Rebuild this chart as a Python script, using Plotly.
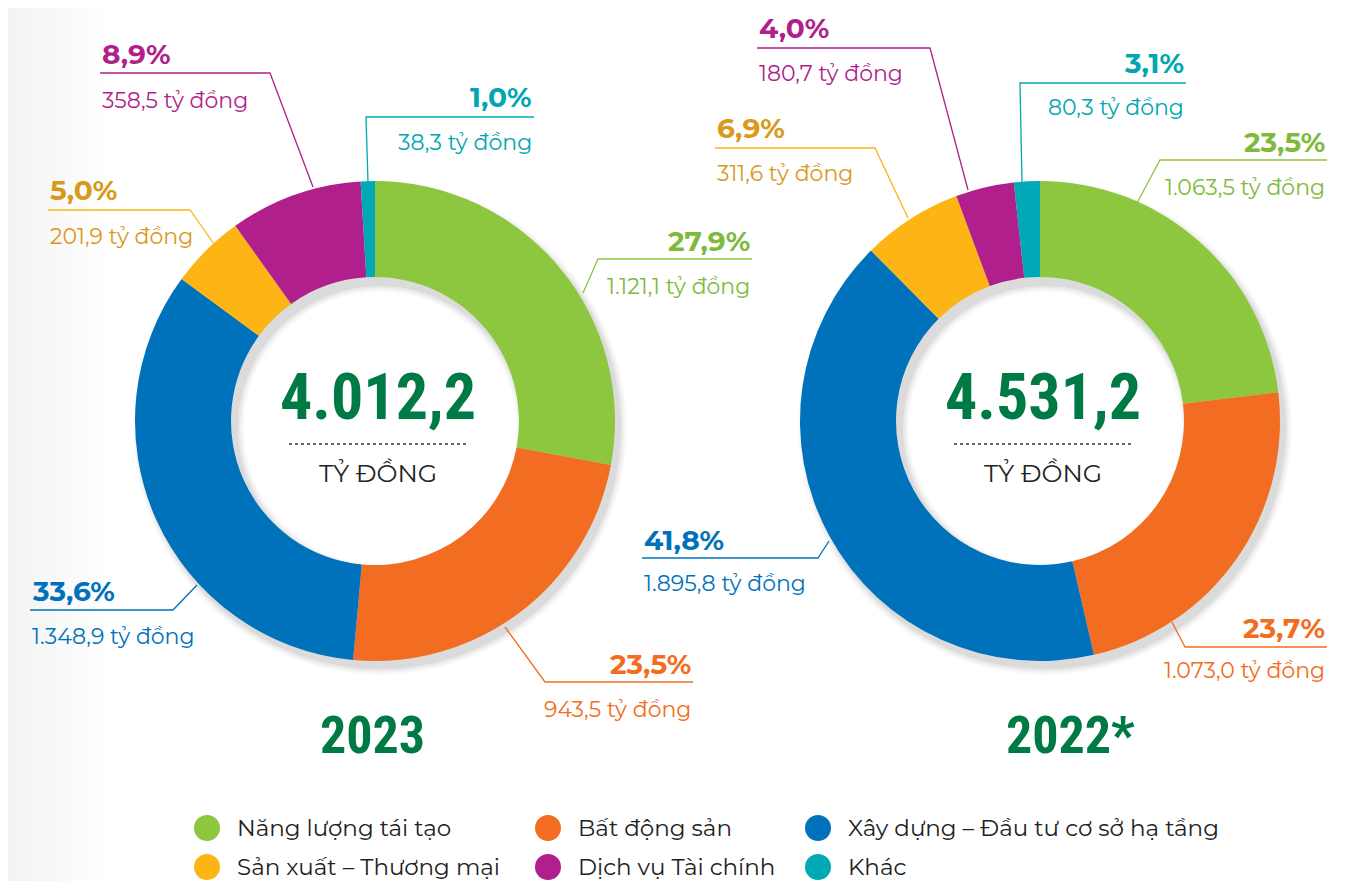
import numpy as np
import plotly.graph_objects as go

# --- data -------------------------------------------------------------
categories = [
    "Năng lượng tái tạo",
    "Bất động sản",
    "Xây dựng – Đầu tư cơ sở hạ tầng",
    "Sản xuất – Thương mại",
    "Dịch vụ Tài chính",
    "Khác",
]
values_2023 = [1121.1, 943.5, 1348.9, 201.9, 358.5, 38.3]
pct_2023 = ["27,9%", "23,5%", "33,6%", "5,0%", "8,9%", "1,0%"]
values_2022 = [1063.5, 1073.0, 1895.8, 311.6, 180.7, 80.3]
pct_2022 = ["23,5%", "23,7%", "41,8%", "6,9%", "4,0%", "3,1%"]
totals = ["4.012,2", "4.531,2"]
years = ["2023", "2022*"]

COLORS = ["#8DC63F", "#F26D21", "#0072BC", "#FDB515", "#B01F8C", "#00A9B5"]
TEXT_COLORS = ["#7FBA3A", "#F26D21", "#0072BC", "#D9991B", "#B01F8C", "#00A6B0"]
DARK_GREEN = "#007A45"
W, H = 1364, 881
OFF = 8  # page body margin offset
FW, FH = W - OFF, H - OFF
FONT = "Montserrat, Open Sans, sans-serif"
NUM_FONT = "Roboto Condensed, Liberation Sans Narrow, Roboto, sans-serif"

# donut geometry (screen pixels)
CENTERS = [(375, 421), (1040, 421)]
R_OUT = 240
HOLE = 0.6

# callout layout: side, text x, pct y, value y, leader path
CALLOUTS = [
    [
        ("right", 752, 241, 286, [(752, 259), (598, 259), (583, 293)]),
        ("right", 693, 664, 709, [(693, 682), (545, 682), (505, 627)]),
        ("left", 30, 591, 636, [(30, 610), (173, 610), (197, 585)]),
        ("left", 48, 190, 236, [(48, 210), (190, 210), (214, 244)]),
        ("left", 100, 54, 100, [(100, 73), (270, 73), (313, 187)]),
        ("right", 534, 97, 142, [(534, 117), (366, 117), (368, 182)]),
    ],
    [
        ("right", 1327, 142, 187, [(1327, 160), (1160, 160), (1137, 203)]),
        ("right", 1327, 628, 670, [(1327, 647), (1185, 647), (1172, 622)]),
        ("left", 642, 540, 583, [(642, 558), (818, 558), (829, 541)]),
        ("left", 715, 128, 173, [(715, 148), (875, 148), (908, 218)]),
        ("left", 757, 28, 73, [(757, 48), (930, 48), (968, 190)]),
        ("right", 1186, 63, 107, [(1186, 83), (1020, 83), (1022, 183)]),
    ],
]


def vn_number(v):
    s = f"{v:,.1f}"
    return s.replace(",", "X").replace(".", ",").replace("X", ".")


def ring_path(cx, cy, r1, r2, n=120):
    t = np.linspace(0, 2 * np.pi, n, endpoint=False)
    outer = " L".join(f"{cx + r1 * np.cos(a):.1f},{cy + r1 * np.sin(a):.1f}" for a in t)
    inner = " L".join(f"{cx + r2 * np.cos(a):.1f},{cy + r2 * np.sin(a):.1f}" for a in t[::-1])
    return f"M{outer} Z M{inner} Z"


fig = go.Figure()

# invisible pixel-space axes for annotations / shapes
fig.add_trace(go.Scatter(x=[OFF, W], y=[OFF, H], mode="markers",
                         marker=dict(opacity=0), hoverinfo="skip", showlegend=False))

for (cx, cy), vals in zip(CENTERS, [values_2023, values_2022]):
    fig.add_trace(go.Pie(
        labels=categories,
        values=vals,
        hole=HOLE,
        sort=False,
        direction="clockwise",
        rotation=0,
        marker=dict(colors=COLORS, line=dict(width=0)),
        textinfo="none",
        hovertemplate="%{label}<br>%{value:,.1f} tỷ đồng<extra></extra>",
        domain=dict(x=[(cx - R_OUT - OFF) / FW, (cx + R_OUT - OFF) / FW],
                    y=[1 - (cy + R_OUT - OFF) / FH, 1 - (cy - R_OUT - OFF) / FH]),
        showlegend=False,
    ))

shapes = []
annotations = []

# faint grey fade along the left edge of the page
for k in range(12):
    shapes.append(dict(type="rect", xref="x", yref="y", layer="below",
                       x0=OFF, x1=OFF + 8 * (k + 1), y0=OFF, y1=H,
                       fillcolor="rgba(0,0,0,0.004)", line=dict(width=0)))

# soft drop shadow behind the donuts
for cx, cy in CENTERS:
    for k, a in enumerate([0.05, 0.04, 0.03, 0.02]):
        shapes.append(dict(
            type="path", xref="x", yref="y", layer="below",
            path=ring_path(cx + 5, cy + 7, R_OUT + 1 + 2 * k, R_OUT * HOLE - 2 - 2 * k),
            fillcolor=f"rgba(0,0,0,{a})", line=dict(width=0),
        ))

for ci, (vals, pcts) in enumerate([(values_2023, pct_2023), (values_2022, pct_2022)]):
    for i, (side, tx, yp, yv, pts) in enumerate(CALLOUTS[ci]):
        path = "M" + " L".join(f"{x},{y}" for x, y in pts)
        shapes.append(dict(type="path", xref="x", yref="y", path=path,
                           line=dict(color=COLORS[i], width=1.3)))
        annotations.append(dict(
            x=tx, y=yp, xref="x", yref="y", text=f"<b>{pcts[i]}</b>",
            showarrow=False, xanchor=side, yanchor="middle",
            font=dict(family=FONT, size=28, color=TEXT_COLORS[i]),
        ))
        annotations.append(dict(
            x=tx, y=yv, xref="x", yref="y", text=f"{vn_number(vals[i])} tỷ đồng",
            showarrow=False, xanchor=side, yanchor="middle",
            font=dict(family=FONT, size=22, color=TEXT_COLORS[i]),
        ))

    cx, cy = CENTERS[ci]
    annotations.append(dict(
        x=cx + 3, y=cy - 24, xref="x", yref="y", text=f"<b>{totals[ci]}</b>",
        showarrow=False, xanchor="center", yanchor="middle",
        font=dict(family=NUM_FONT, size=64, color=DARK_GREEN),
    ))
    shapes.append(dict(type="line", xref="x", yref="y",
                       x0=cx - 86, x1=cx + 94, y0=cy + 23, y1=cy + 23,
                       line=dict(color="#333333", width=1.5, dash="dot")))
    annotations.append(dict(
        x=cx + 3, y=cy + 52, xref="x", yref="y", text="TỶ ĐỒNG",
        showarrow=False, xanchor="center", yanchor="middle",
        font=dict(family=FONT, size=25, color="#222222"),
    ))

# year titles
for (cx, cy), yr, dx in zip(CENTERS, years, [-3, 30]):
    annotations.append(dict(
        x=cx + dx, y=735, xref="x", yref="y", text=f"<b>{yr}</b>",
        showarrow=False, xanchor="center", yanchor="middle",
        font=dict(family=NUM_FONT, size=52, color=DARK_GREEN),
    ))

# legend (two rows, three columns)
LEG_X = [207, 548, 818]
LEG_Y = [828, 867]
for i, name in enumerate(categories):
    lx = LEG_X[i % 3]
    ly = LEG_Y[i // 3]
    shapes.append(dict(type="circle", xref="x", yref="y",
                       x0=lx - 13, x1=lx + 13, y0=ly - 13, y1=ly + 13,
                       fillcolor=COLORS[i], line=dict(width=0)))
    annotations.append(dict(
        x=lx + 28, y=ly, xref="x", yref="y", text=name,
        showarrow=False, xanchor="left", yanchor="middle",
        font=dict(family=FONT, size=23, color="#222222"),
    ))

fig.update_layout(
    width=FW, height=FH,
    margin=dict(l=0, r=0, t=0, b=0),
    paper_bgcolor="white",
    plot_bgcolor="white",
    shapes=shapes,
    annotations=annotations,
    showlegend=False,
    xaxis=dict(range=[OFF, W], visible=False, fixedrange=True, domain=[0, 1]),
    yaxis=dict(range=[H, OFF], visible=False, fixedrange=True, domain=[0, 1]),
)

fig.write_html("out.html")
